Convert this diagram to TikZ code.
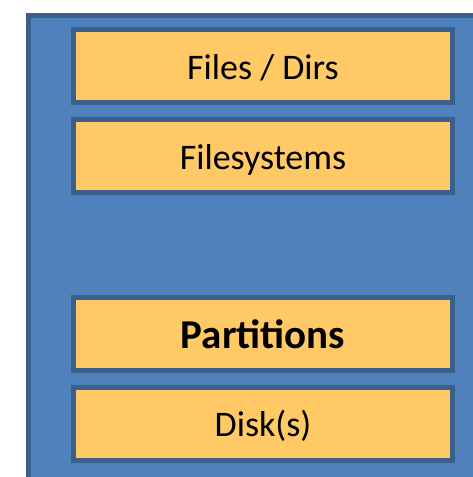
\documentclass[tikz,border=0pt]{standalone}
\usepackage{fontspec}
\setmainfont{Carlito}
\definecolor{panelblue}{HTML}{4F81BD}
\definecolor{edgeblue}{HTML}{3A5F8B}
\definecolor{layergold}{HTML}{FFCA66}
\begin{document}
\begin{tikzpicture}[x=1pt,y=-1pt,
  layer/.style={draw=edgeblue, fill=layergold, line width=5pt,
    minimum width=379pt, minimum height=73pt, inner sep=0pt},
  layertext/.style={font=\fontsize{36}{40}\selectfont, text height=23.2pt, text depth=0pt, inner sep=0pt}
]
  % page frame
  \clip (0,0) rectangle (473,477);
  \useasboundingbox (0,0) rectangle (473,477);

  % blue panel running off the right and bottom edges
  \node[draw=edgeblue, fill=panelblue, line width=5pt, inner sep=0pt,
        minimum width=470pt, minimum height=480pt, anchor=north west]
        (panel) at (25.5,12.5) {};

  % storage layers
  \node[layer] (files) at (263,66) {};
  \node[layer] (fs)    at (263,156) {};
  \node[layer] (parts) at (263,334) {};
  \node[layer] (disks) at (263,424) {};

  \node[layertext] at ([yshift=-1.5pt]files.center) {Files / Dirs};
  \node[layertext] at ([yshift=-1.5pt]fs.center) {Filesystems};
  \node[layertext, font=\fontsize{41}{45}\selectfont\bfseries, text height=26.4pt] at ([yshift=-1.5pt]parts.center) {Partitions};
  \node[layertext] at ([yshift=-1pt]disks.center) {Disk(s)};
\end{tikzpicture}
\end{document}
